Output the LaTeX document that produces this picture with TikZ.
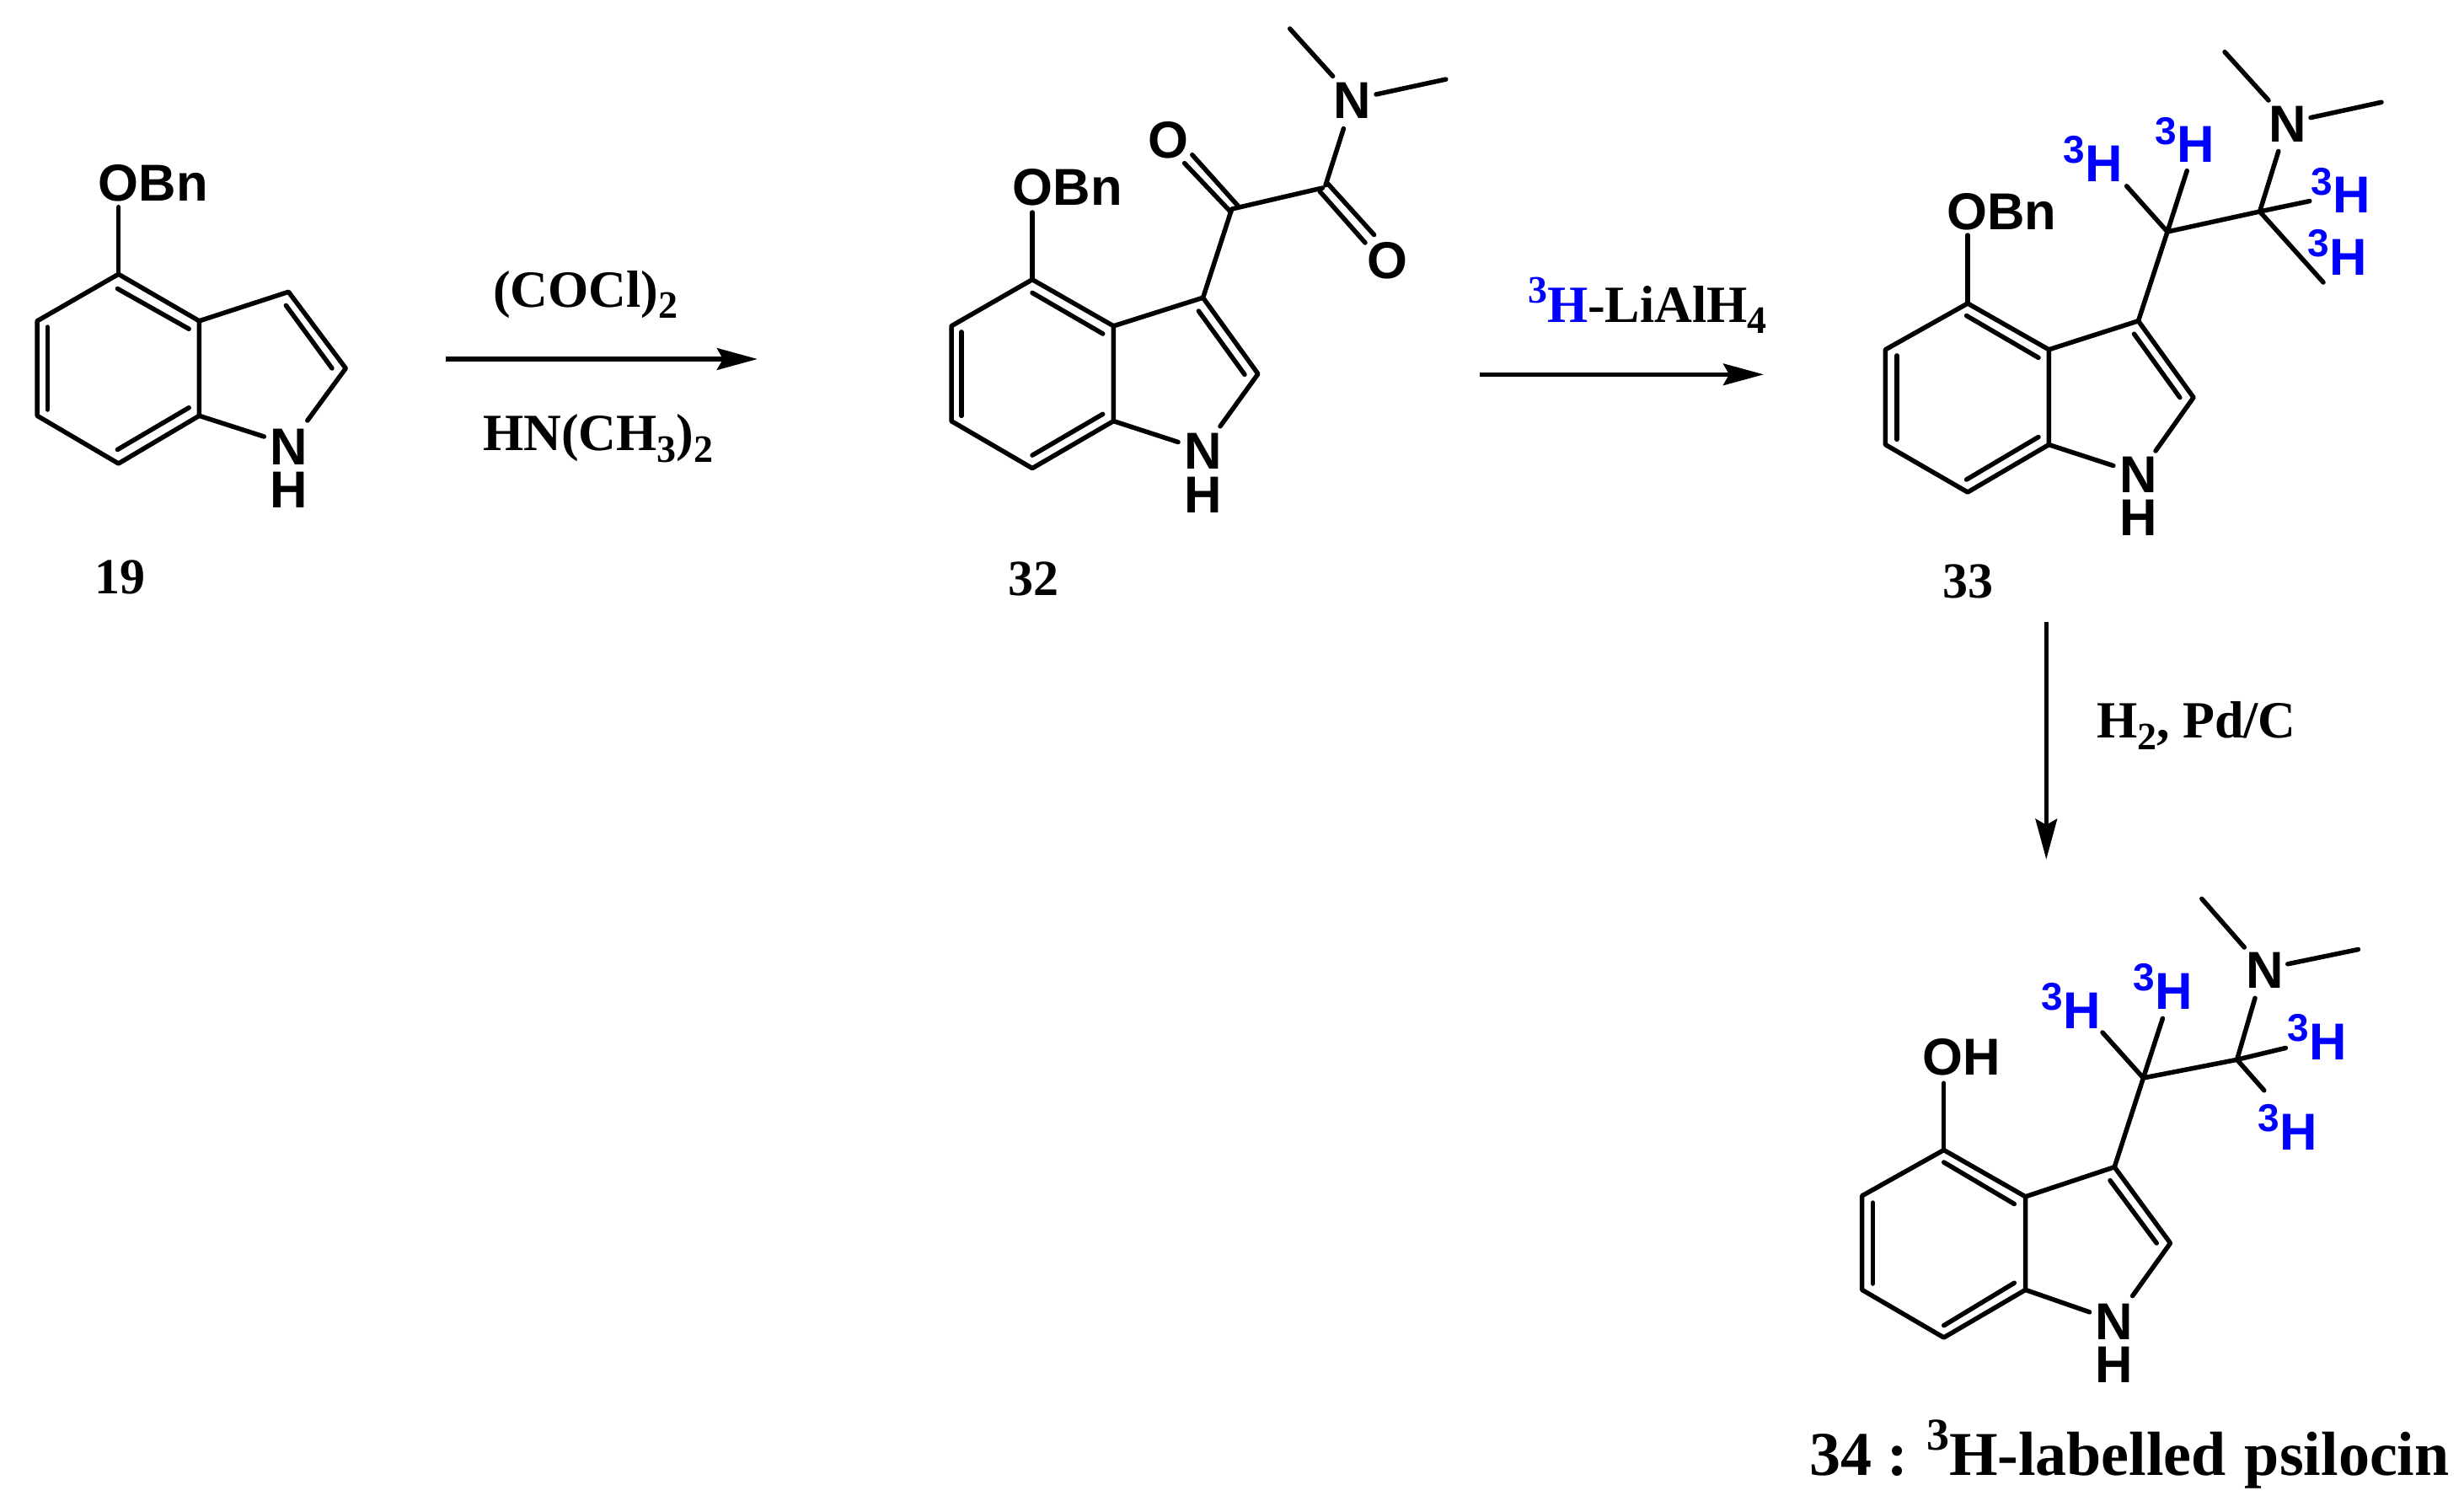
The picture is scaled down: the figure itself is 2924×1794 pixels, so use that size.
\documentclass[tikz,border=0pt]{standalone}
\usepackage{fontspec}
\setmainfont{Liberation Serif}
\newfontfamily\atomfont{Liberation Sans}[BoldFont=* Bold]
\usetikzlibrary{arrows.meta}
\definecolor{tritium}{RGB}{0,0,255}
\newcommand{\subs}[1]{\raisebox{-6.8pt}{\fontsize{23}{23}\selectfont #1}}
\newcommand{\sups}[1]{\raisebox{11.5pt}{\fontsize{23}{23}\selectfont #1}}
\newcommand{\triH}{\textcolor{tritium}{\raisebox{10.7pt}{\fontsize{23}{23}\selectfont 3}H}}
\tikzset{
  x=0.5pt,y=-0.5pt,
  bond/.style={line width=2.75pt,line cap=round,line join=round,black},
  react/.style={line width=2.5pt,black,-{Stealth[length=24pt,width=12.8pt,inset=3.5pt]}},
  atom/.style={inner sep=0pt,outer sep=0pt,anchor=center,font=\atomfont\bfseries\fontsize{30.8}{30.8}\selectfont,text=black},
  tlab/.style={inner sep=0pt,outer sep=0pt,anchor=base east,font=\atomfont\bfseries\fontsize{30.8}{30.8}\selectfont},
  rgt/.style={inner sep=0pt,outer sep=0pt,font=\bfseries\fontsize{31}{31}\selectfont,text=black},
  cmpd/.style={inner sep=0pt,outer sep=0pt,font=\bfseries\fontsize{30}{30}\selectfont,text=black},
}
\newcommand{\ringbonds}[1]{%
  \draw[bond] (#1c4)--(#1lt)--(#1lb)--(#1b)--(#1c7a)--(#1c3a)--cycle;
  \draw[bond] (#1c3a)--(#1c3)--(#1c2)--(#1ne2);
  \draw[bond] (#1c7a)--(#1ne7);
  \draw[bond] (#1d1)--(#1d2);
  \draw[bond] (#1d3)--(#1d4);
  \draw[bond] (#1d5)--(#1d6);
  \draw[bond] (#1d7)--(#1d8);
  \draw[bond] (#1c4)--(#1oe);
}
\begin{document}
\begin{tikzpicture}
\useasboundingbox[fill=white] (0,0) rectangle (2924,1794);

% ---------- 19
\coordinate (Ac4) at (140.6,325.3); \coordinate (Alt) at (44.2,380.8); \coordinate (Alb) at (44.2,493.3);
\coordinate (Ab) at (140.6,550); \coordinate (Ac7a) at (236.4,493.3); \coordinate (Ac3a) at (236.4,380.8);
\coordinate (Ac3) at (342.4,346.3); \coordinate (Ac2) at (410.3,437);
\coordinate (Ane2) at (364.8,499); \coordinate (Ane7) at (313.3,518); \coordinate (Aoe) at (140.6,245.7);
\coordinate (Ad1) at (139.4,342.5); \coordinate (Ad2) at (224.2,390.3);
\coordinate (Ad3) at (56.4,388); \coordinate (Ad4) at (56.4,486);
\coordinate (Ad5) at (139.4,533.5); \coordinate (Ad6) at (224.2,483.7);
\coordinate (Ad7) at (339.4,362.4); \coordinate (Ad8) at (394,437);
\ringbonds{A}
\node[atom] (An) at (343,530) {N};
\node[atom] (Ah) at (343,581.5) {H};
\node[atom] (Ao) at (181.7,217) {OBn};
\node[cmpd] (l19) at (142.4,685) {19};

% ---------- arrow 1
\node[rgt,anchor=base west] (r1a) at (585,364) {(COCl)\subs{2}};
\node[rgt,anchor=base west] (r1b) at (573,534.6) {HN(CH\subs{3})\subs{2}};
\coordinate (a1s) at (528.5,426); \coordinate (a1e) at (899,426);
\draw[react,line width=2.8pt] (a1s)--(a1e);

% ---------- 32
\coordinate (Bc4) at (1225,331.7); \coordinate (Blt) at (1129,386.8); \coordinate (Blb) at (1129,499.6);
\coordinate (Bb) at (1225,555.6); \coordinate (Bc7a) at (1321.4,499.6); \coordinate (Bc3a) at (1321.4,386.8);
\coordinate (Bc3) at (1427.6,353.2); \coordinate (Bc2) at (1492.9,443.6);
\coordinate (Bne2) at (1448,505.8); \coordinate (Bne7) at (1398,524.5); \coordinate (Boe) at (1225,252);
\coordinate (Bd1) at (1225,347.4); \coordinate (Bd2) at (1308.7,396);
\coordinate (Bd3) at (1140.8,393.9); \coordinate (Bd4) at (1140.8,493.4);
\coordinate (Bd5) at (1225,540.2); \coordinate (Bd6) at (1308.7,491.3);
\coordinate (Bd7) at (1422.4,369); \coordinate (Bd8) at (1477,444.4);
\ringbonds{B}
\coordinate (Bca) at (1461.7,248); \coordinate (Bcb) at (1569.4,223);
\draw[bond] (Bc3)--(Bca)--(Bcb);
\coordinate (Bo1a) at (1414.8,183.7); \coordinate (Bo1b) at (1469.4,244.6);
\coordinate (Bo1c) at (1405.6,193.6); \coordinate (Bo1d) at (1460.7,251.7);
\draw[bond] (Bo1a)--(Bo1b); \draw[bond] (Bo1c)--(Bo1d);
\coordinate (Bo2a) at (1575.5,217.7); \coordinate (Bo2b) at (1630.6,278.6);
\coordinate (Bo2c) at (1566.3,227.2); \coordinate (Bo2d) at (1620,288);
\draw[bond] (Bo2a)--(Bo2b); \draw[bond] (Bo2c)--(Bo2d);
\coordinate (Bnb) at (1594.4,152.6); \coordinate (Bcn) at (1573,219.7);
\draw[bond] (Bnb)--(Bcn);
\coordinate (Bm1a) at (1530.6,34); \coordinate (Bm1b) at (1581.6,90.4);
\coordinate (Bm2a) at (1715.8,94.1); \coordinate (Bm2b) at (1633,112);
\draw[bond] (Bm1a)--(Bm1b); \draw[bond] (Bm2a)--(Bm2b);
\node[atom] (Bn) at (1427.6,535.7) {N};
\node[atom] (Bh) at (1427.6,587.5) {H};
\node[atom] (Bo) at (1266.8,222.6) {OBn};
\node[atom] (Bo1) at (1386.7,166.7) {O};
\node[atom] (Bo2) at (1646,308.9) {O};
\node[atom] (Bn2) at (1605,119.4) {N};
\node[cmpd] (l32) at (1226,687) {32};

% ---------- arrow 2
\node[rgt,anchor=base west] (r2) at (1813,382) {\textcolor{tritium}{\sups{3}H}-LiAlH\subs{4}};
\coordinate (a2s) at (1756,444.3); \coordinate (a2e) at (2093,444.3);
\draw[react] (a2s)--(a2e);

% ---------- 33
\coordinate (Cc4) at (2335,360); \coordinate (Clt) at (2237.4,414.8); \coordinate (Clb) at (2237.4,527.6);
\coordinate (Cb) at (2335,584); \coordinate (Cc7a) at (2431.3,527.6); \coordinate (Cc3a) at (2431.3,414.8);
\coordinate (Cc3) at (2537.5,380.8); \coordinate (Cc2) at (2603,471.6);
\coordinate (Cne2) at (2558,535); \coordinate (Cne7) at (2507.8,552.5); \coordinate (Coe) at (2335,279);
\coordinate (Cd1) at (2333.6,374.6); \coordinate (Cd2) at (2419,424.4);
\coordinate (Cd3) at (2251,421.9); \coordinate (Cd4) at (2251,521.4);
\coordinate (Cd5) at (2333.6,569); \coordinate (Cd6) at (2419,518.5);
\coordinate (Cd7) at (2532.5,396.2); \coordinate (Cd8) at (2586.8,471.6);
\ringbonds{C}
\coordinate (Cca) at (2572,275); \coordinate (Ccb) at (2681.6,251);
\draw[bond] (Cc3)--(Cca)--(Ccb);
\coordinate (Ct1) at (2523.6,220.8); \coordinate (Ct2) at (2595.2,202.6);
\coordinate (Ct3) at (2740.8,238.6); \coordinate (Ct4) at (2757,335);
\draw[bond] (Cca)--(Ct1); \draw[bond] (Cca)--(Ct2);
\draw[bond] (Ccb)--(Ct3); \draw[bond] (Ccb)--(Ct4);
\coordinate (Cnb) at (2703.8,179.4);
\draw[bond] (Cnb)--(Ccb);
\coordinate (Cm1a) at (2640,61.6); \coordinate (Cm1b) at (2692,119);
\coordinate (Cm2a) at (2826,121.3); \coordinate (Cm2b) at (2742,139.6);
\draw[bond] (Cm1a)--(Cm1b); \draw[bond] (Cm2a)--(Cm2b);
\node[atom] (Cn) at (2537.5,563.3) {N};
\node[atom] (Ch) at (2537.5,614.7) {H};
\node[atom] (Co) at (2375.4,251) {OBn};
\node[atom] (Cn2) at (2715,147.4) {N};
\node[tlab] (CH1) at (2519,215) {\triH};
\node[tlab] (CH2) at (2628,192.6) {\triH};
\node[tlab] (CH3) at (2812.7,252.8) {\triH};
\node[tlab] (CH4) at (2808.7,326) {\triH};
\node[cmpd] (l33) at (2335,690) {33};

% ---------- arrow 3
\node[rgt,anchor=base west] (r3) at (2488,875.7) {H\subs{2}, Pd/C};
\coordinate (a3s) at (2428.3,738); \coordinate (a3e) at (2428.3,1019.7);
\draw[react] (a3s)--(a3e);

% ---------- 34
\coordinate (Dc4) at (2306.7,1364.5); \coordinate (Dlt) at (2209.7,1418.8); \coordinate (Dlb) at (2209.7,1530.4);
\coordinate (Db) at (2306.7,1587); \coordinate (Dc7a) at (2403.6,1530.4); \coordinate (Dc3a) at (2403.6,1419.8);
\coordinate (Dc3) at (2509.2,1384.7); \coordinate (Dc2) at (2575.5,1475);
\coordinate (Dne2) at (2530.6,1537.6); \coordinate (Dne7) at (2479.6,1556.8); \coordinate (Doe) at (2306.7,1285.2);
\coordinate (Dd1) at (2306.7,1379); \coordinate (Dd2) at (2390.3,1428.5);
\coordinate (Dd3) at (2222.5,1427); \coordinate (Dd4) at (2222.5,1523);
\coordinate (Dd5) at (2306.7,1572.7); \coordinate (Dd6) at (2390.3,1522.2);
\coordinate (Dd7) at (2504,1400.6); \coordinate (Dd8) at (2559.2,1475);
\ringbonds{D}
\coordinate (Dca) at (2543.4,1279); \coordinate (Dcb) at (2654.6,1257.3);
\draw[bond] (Dc3)--(Dca)--(Dcb);
\coordinate (Dt1) at (2495,1225); \coordinate (Dt2) at (2566.4,1208.3);
\coordinate (Dt3) at (2712.3,1243.4); \coordinate (Dt4) at (2686.8,1293.8);
\draw[bond] (Dca)--(Dt1); \draw[bond] (Dca)--(Dt2);
\draw[bond] (Dcb)--(Dt3); \draw[bond] (Dcb)--(Dt4);
\coordinate (Dnb) at (2676,1184.2);
\draw[bond] (Dnb)--(Dcb);
\coordinate (Dm1a) at (2612.8,1066.4); \coordinate (Dm1b) at (2663.3,1124);
\coordinate (Dm2a) at (2798.5,1126.5); \coordinate (Dm2b) at (2714.8,1143.8);
\draw[bond] (Dm1a)--(Dm1b); \draw[bond] (Dm2a)--(Dm2b);
\node[atom] (Dn) at (2509.2,1567.9) {N};
\node[atom] (Dh) at (2509.2,1619.3) {H};
\node[atom] (Do) at (2328,1254) {OH};
\node[atom] (Dn2) at (2687.8,1151.5) {N};
\node[tlab] (DH1) at (2493,1220.2) {\triH};
\node[tlab] (DH2) at (2602,1197) {\triH};
\node[tlab] (DH3) at (2784.8,1257.2) {\triH};
\node[tlab] (DH4) at (2749.6,1364) {\triH};
\node[inner sep=0pt,anchor=base west,font=\bfseries\fontsize{37}{37}\selectfont] (title) at (2147,1750.6)
  {34\hspace{9pt}:\hspace{11pt}\raisebox{15pt}{\fontsize{27}{27}\selectfont 3}H-labelled\hspace{11pt}psilocin};
\end{tikzpicture}
\end{document}
